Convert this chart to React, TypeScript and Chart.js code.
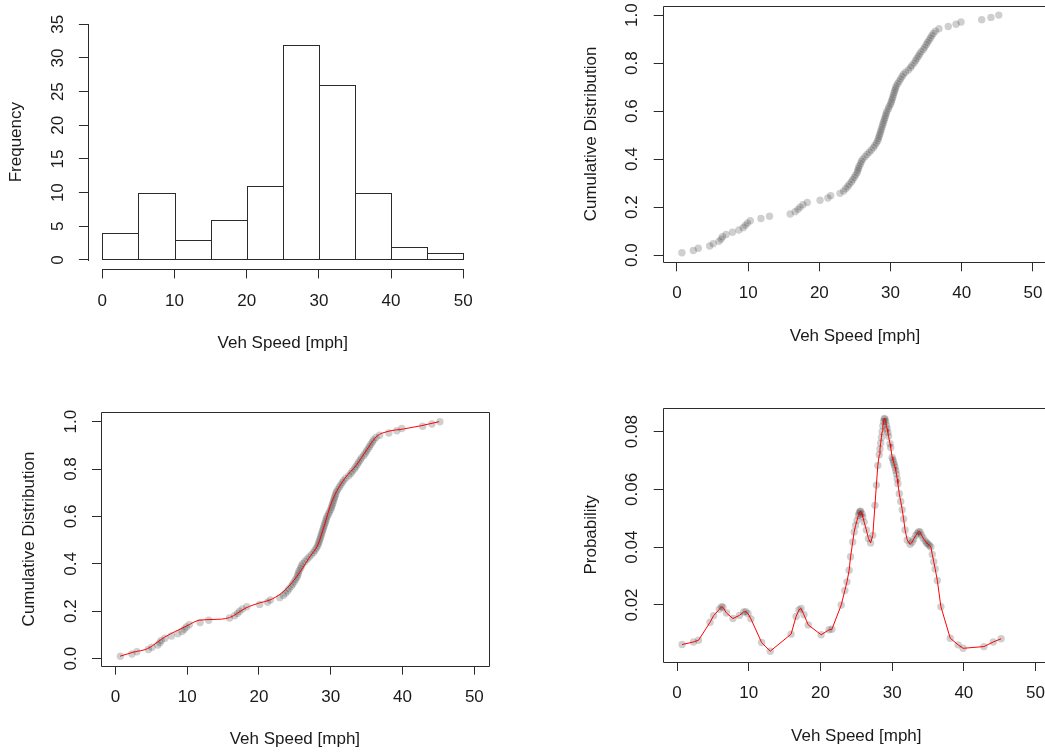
import React, { useEffect, useRef } from "react";
import { Chart, registerables } from "chart.js";

Chart.register(...registerables);

// ---------- data ----------
const speeds = [
  0.7, 2.3, 3.0, 4.6,
  5.1, 5.9, 6.2, 6.4, 6.9, 7.8, 8.7, 9.3, 9.6, 9.9,
  10.3, 11.8, 13.0,
  15.9, 16.6, 17.0, 17.3, 17.7, 18.3,
  20.1, 21.2, 21.6, 22.9, 23.4, 23.7, 24.0, 24.2, 24.5, 24.7, 24.9,
  25.1, 25.3, 25.4, 25.5, 25.6, 25.8, 25.9, 26.1, 26.4, 26.7, 27.0, 27.3, 27.6, 27.8, 28.0,
  28.2, 28.3, 28.4, 28.5, 28.6, 28.7, 28.8, 28.9, 29.0, 29.1, 29.2, 29.3, 29.4, 29.5, 29.7, 29.8, 30.0,
  30.1, 30.2, 30.3, 30.4, 30.5, 30.6, 30.7, 30.8, 31.0, 31.2, 31.4, 31.6, 31.8, 32.1, 32.5, 32.8,
  33.0, 33.3, 33.5, 33.7, 33.9, 34.1, 34.3, 34.6, 34.8, 35.0,
  35.2, 35.4, 35.6, 35.8, 36.0, 36.3, 36.8, 38.1, 39.2, 39.9,
  42.8, 44.1,
  45.2,
];

const density = [
  0.0063, 0.0072, 0.0078, 0.014,
  0.0163, 0.0185, 0.0194, 0.0192, 0.0172, 0.0153, 0.0164, 0.0176, 0.0177, 0.017,
  0.0152, 0.007, 0.004,
  0.0099, 0.016, 0.0183, 0.0188, 0.0166, 0.0131,
  0.0097, 0.0114, 0.0116, 0.02, 0.025, 0.028, 0.032, 0.0367, 0.0418, 0.0453, 0.0475,
  0.0493, 0.051, 0.0518, 0.0524, 0.0525, 0.0515, 0.0505, 0.0487, 0.046, 0.043, 0.0415, 0.0441, 0.0545, 0.0615, 0.0683,
  0.072, 0.074, 0.076, 0.078, 0.08, 0.082, 0.0835, 0.0846, 0.0843, 0.0835, 0.0822, 0.081, 0.0797, 0.0784, 0.0758, 0.0745, 0.0711,
  0.0703, 0.0694, 0.0686, 0.0677, 0.0666, 0.0654, 0.0637, 0.062, 0.0585, 0.0558, 0.053, 0.0498, 0.046, 0.0425, 0.041, 0.0418,
  0.0428, 0.0441, 0.0448, 0.0454, 0.0453, 0.0442, 0.0432, 0.0422, 0.0415, 0.0411,
  0.0406, 0.0401, 0.0375, 0.035, 0.0325, 0.0285, 0.0194, 0.0085, 0.0062, 0.005,
  0.0056, 0.0072,
  0.0083,
];

const histEdges = [0, 5, 10, 15, 20, 25, 30, 35, 40, 45, 50];
const histCounts = [4, 10, 3, 6, 11, 32, 26, 10, 2, 1];

const cdfFitX = [0.65, 2.5, 4.5, 5.9, 6.9, 9.9, 11.7, 13.6, 15.9, 18.2, 20.1, 21.5, 23.1, 24.7, 25.9, 27.1, 28.2, 29.2, 29.9, 30.8, 32.0, 33.6, 35.0, 36.4, 38.0, 40.1, 42.6, 45.1];
const cdfFitY = [0.01, 0.027, 0.042, 0.07, 0.091, 0.137, 0.162, 0.165, 0.173, 0.214, 0.235, 0.247, 0.275, 0.324, 0.374, 0.43, 0.48, 0.571, 0.642, 0.705, 0.762, 0.818, 0.881, 0.938, 0.959, 0.969, 0.983, 1.0];

const speedTicks = [0, 10, 20, 30, 40, 50];
const freqTicks = [0, 5, 10, 15, 20, 25, 30, 35];
const cdfTicks = [0, 0.2, 0.4, 0.6, 0.8, 1.0];
const probTicks = [0.02, 0.04, 0.06, 0.08];

const xTitle = "Veh Speed [mph]";

// ---------- layout ----------
const W = 1060;
const H = 753;
const AX = 12;
const FONT = '17px "Liberation Sans", Arial, sans-serif';
const TEXT = "#1a1a1a";
const LINE = "#2b2b2b";
const POINT = "rgba(0,0,0,0.19)";

const ecdf = speeds.map((x, i) => ({ x, y: (i + 1) / speeds.length }));
const densPts = speeds.map((x, i) => ({ x, y: density[i] }));
const fitPts = cdfFitX.map((x, i) => ({ x, y: cdfFitY[i] }));
const histPts = histCounts.map((c, i) => ({ x: (histEdges[i] + histEdges[i + 1]) / 2, y: c }));

type Panel = {
  box: { l: number; t: number; r: number; b: number };
  x: [number, number];
  y: [number, number];
  xTicks: number[];
  yTicks: number[];
  yFmt: (v: number) => string;
  yTitle: string;
  frame: "box" | "axes";
  kind: "hist" | "ecdf" | "ecdfFit" | "dens";
};

const panels: Panel[] = [
  {
    box: { l: 87.9, t: 14.9, r: 477.7, b: 269.4 },
    x: [-2, 52], y: [-1.4, 36.4],
    xTicks: speedTicks, yTicks: freqTicks, yFmt: (v) => String(v),
    yTitle: "Frequency", frame: "axes", kind: "hist",
  },
  {
    box: { l: 662.7, t: 5.6, r: 1047.2, b: 262.3 },
    x: [-2, 52], y: [-0.0301, 1.0396],
    xTicks: speedTicks, yTicks: cdfTicks, yFmt: (v) => v.toFixed(1),
    yTitle: "Cumulative Distribution", frame: "box", kind: "ecdf",
  },
  {
    box: { l: 101, t: 412.3, r: 488.7, b: 665.7 },
    x: [-2, 52], y: [-0.0301, 1.0396],
    xTicks: speedTicks, yTicks: cdfTicks, yFmt: (v) => v.toFixed(1),
    yTitle: "Cumulative Distribution", frame: "box", kind: "ecdfFit",
  },
  {
    box: { l: 662.7, t: 407.7, r: 1049.9, b: 662 },
    x: [-2, 52], y: [0.00026, 0.0883],
    xTicks: speedTicks, yTicks: probTicks, yFmt: (v) => v.toFixed(2),
    yTitle: "Probability", frame: "box", kind: "dens",
  },
];

const px = (v: number) => Math.round(v) + 0.5;

function decor(p: Panel) {
  return {
    id: "decor",
    afterDatasetsDraw(chart: any) {
      if (p.kind !== "hist") return;
      const ctx = chart.ctx;
      const meta = chart.getDatasetMeta(0);
      ctx.save();
      ctx.strokeStyle = LINE;
      ctx.lineWidth = 1;
      meta.data.forEach((bar: any) => {
        const { x, y, base, width } = bar.getProps(["x", "y", "base", "width"], true);
        const l = Math.round(x - width / 2);
        const r = Math.round(x + width / 2);
        const t = Math.round(y);
        const b = Math.round(base);
        ctx.strokeRect(l + 0.5, t + 0.5, r - l, b - t);
      });
      ctx.restore();
    },
    afterDraw(chart: any) {
      const ctx = chart.ctx;
      const a = chart.chartArea;
      const xs = chart.scales.x;
      const ys = chart.scales.y;
      ctx.save();
      ctx.strokeStyle = LINE;
      ctx.lineWidth = 1;
      ctx.beginPath();
      if (p.frame === "box") {
        ctx.rect(px(a.left), px(a.top), Math.round(a.right) - Math.round(a.left), Math.round(a.bottom) - Math.round(a.top));
      } else {
        const x0 = xs.getPixelForValue(p.xTicks[0]);
        const x1 = xs.getPixelForValue(p.xTicks[p.xTicks.length - 1]);
        ctx.moveTo(Math.round(x0), px(a.bottom));
        ctx.lineTo(Math.round(x1) + 1, px(a.bottom));
        const y0 = ys.getPixelForValue(p.yTicks[0]);
        const y1 = ys.getPixelForValue(p.yTicks[p.yTicks.length - 1]);
        ctx.moveTo(px(a.left), Math.round(y0) + 1);
        ctx.lineTo(px(a.left), Math.round(y1));
      }
      ctx.stroke();

      ctx.fillStyle = TEXT;
      ctx.font = FONT;
      ctx.textAlign = "center";
      ctx.textBaseline = "middle";
      p.xTicks.forEach((v) => {
        ctx.fillText(String(v), xs.getPixelForValue(v), a.bottom + 31.5);
      });
      p.yTicks.forEach((v) => {
        ctx.save();
        ctx.translate(a.left - 30, ys.getPixelForValue(v));
        ctx.rotate(-Math.PI / 2);
        ctx.fillText(p.yFmt(v), 0, 0);
        ctx.restore();
      });
      ctx.fillText(xTitle, (a.left + a.right) / 2, a.bottom + 74);
      ctx.save();
      ctx.translate(a.left - 71.5, (a.top + a.bottom) / 2);
      ctx.rotate(-Math.PI / 2);
      ctx.fillText(p.yTitle, 0, 0);
      ctx.restore();
      ctx.restore();
    },
  };
}

function buildConfig(p: Panel): any {
  const setTicks = (vals: number[]) => (scale: any) => {
    scale.ticks = vals.map((v) => ({ value: v }));
  };
  const grid = {
    display: true,
    drawOnChartArea: false,
    drawTicks: true,
    tickLength: 9,
    color: LINE,
    lineWidth: 1,
    offset: false,
  };
  const options: any = {
    responsive: false,
    animation: false,
    events: [],
    layout: {
      padding: {
        left: p.box.l - AX,
        top: p.box.t,
        right: W - p.box.r,
        bottom: H - p.box.b - AX,
      },
    },
    plugins: {
      legend: { display: false },
      tooltip: { enabled: false },
      title: { display: false },
    },
    scales: {
      x: {
        type: "linear",
        min: p.x[0],
        max: p.x[1],
        offset: false,
        afterBuildTicks: setTicks(p.xTicks),
        afterFit: (s: any) => { s.height = AX; },
        ticks: { display: false },
        grid,
        border: { display: false },
      },
      y: {
        type: "linear",
        min: p.y[0],
        max: p.y[1],
        afterBuildTicks: setTicks(p.yTicks),
        afterFit: (s: any) => { s.width = AX; },
        ticks: { display: false },
        grid,
        border: { display: false },
      },
    },
  };

  const pointSet = (data: any[]) => ({
    type: "scatter",
    data,
    showLine: false,
    pointRadius: 3.7,
    pointBackgroundColor: POINT,
    pointBorderWidth: 0,
    pointBorderColor: "rgba(0,0,0,0)",
  });
  const redLine = (data: any[], smooth: boolean) => ({
    type: "scatter",
    data,
    showLine: true,
    borderColor: "red",
    borderWidth: 1,
    pointRadius: 0,
    tension: smooth ? 0.4 : 0,
    cubicInterpolationMode: smooth ? "monotone" : "default",
    fill: false,
  });

  if (p.kind === "hist") {
    return {
      type: "bar",
      data: {
        datasets: [
          {
            data: histPts,
            backgroundColor: "white",
            borderWidth: 0,
            barPercentage: 1,
            categoryPercentage: 1,
            inflateAmount: 0,
          },
        ],
      },
      options,
      plugins: [decor(p)],
    };
  }
  let datasets: any[] = [];
  if (p.kind === "ecdf") datasets = [pointSet(ecdf)];
  if (p.kind === "ecdfFit") datasets = [redLine(fitPts, true), pointSet(ecdf)];
  if (p.kind === "dens") datasets = [redLine(densPts, false), pointSet(densPts)];
  return { type: "scatter", data: { datasets }, options, plugins: [decor(p)] };
}

function PanelChart({ p }: { p: Panel }) {
  const ref = useRef<HTMLCanvasElement | null>(null);
  useEffect(() => {
    if (!ref.current) return;
    const chart = new Chart(ref.current, buildConfig(p));
    return () => chart.destroy();
  }, [p]);
  return (
    <canvas
      ref={ref}
      width={W}
      height={H}
      style={{ position: "absolute", left: 0, top: 0, width: W, height: H }}
    />
  );
}

export default function App() {
  return (
    <div
      style={{
        position: "absolute",
        left: 0,
        top: 0,
        width: 1045,
        height: 753,
        overflow: "hidden",
        background: "white",
      }}
    >
      {panels.map((p, i) => (
        <PanelChart key={i} p={p} />
      ))}
    </div>
  );
}
